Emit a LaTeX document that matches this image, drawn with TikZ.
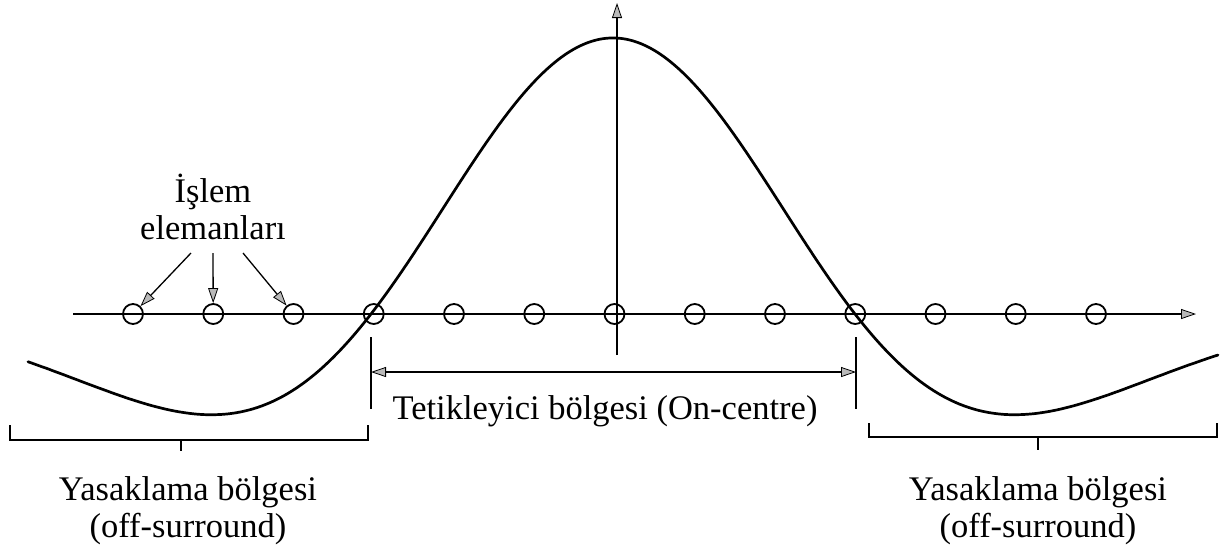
\documentclass[tikz,border=0pt]{standalone}
\usepackage{fontspec}
\setmainfont{Liberation Serif}
\usetikzlibrary{arrows.meta}
\begin{document}
\begin{tikzpicture}[x=1pt,y=-1pt,
  pe/.style={circle,draw,line width=1.8pt,minimum size=20pt,inner sep=0pt},
  tipend/.style={-{Triangle[length=15pt,width=10pt,fill=gray!55,line width=0.8pt]}},
  bothtip/.style={{Triangle[length=15pt,width=10pt,fill=gray!55,line width=0.8pt]}-{Triangle[length=15pt,width=10pt,fill=gray!55,line width=0.8pt]}},
  axis/.style={line width=1.4pt},
  thin/.style={line width=1.3pt},
  curve/.style={line width=2.7pt,line cap=round},
  lbl/.style={font=\fontsize{34.5}{37}\selectfont,align=center,inner sep=0pt}]
\useasboundingbox (0,0) rectangle (1229,550);

% axes
\coordinate (hx0) at (73,314);
\coordinate (hx1) at (1196,314);
\coordinate (vy0) at (617,355);
\coordinate (vy1) at (617,3);
\draw[axis,tipend] (hx0) -- (hx1);
\draw[axis,tipend] (vy0) -- (vy1);

% processing elements
\foreach \i in {0,...,12} {
  \node[pe] (c\i) at ({133+80.25*\i},314) {};
}

% curve
\draw[curve] plot[domain=28:1218,samples=240,smooth]
  (\x,{314-276*(1-((\x-613)/242)^2)*exp(-0.57*((\x-613)/242)^2)});

% label for elements
\node[lbl] (pel) at (213,207) {İşlem\\elemanları};
\coordinate (a1) at (191,253);
\coordinate (a2) at (213,253);
\coordinate (a3) at (243,253);
\draw[thin,tipend] (a1) -- (c0);
\draw[thin,tipend] (a2) -- (c1);
\draw[thin,tipend] (a3) -- (c2);

% on-centre dimension
\coordinate (l0) at (371,337);
\coordinate (l1) at (371,409);
\coordinate (r0) at (856,337);
\coordinate (r1) at (856,409);
\draw[thin] (l0) -- (l1);
\draw[thin] (r0) -- (r1);
\coordinate (d0) at (371,372);
\coordinate (d1) at (856,372);
\draw[thin,bothtip] (d0) -- (d1);
\node[lbl] (on) at (605,411) {Tetikleyici bölgesi (On-centre)};

% left bracket
\coordinate (lb0) at (10,425);
\coordinate (lb1) at (10,440);
\coordinate (lb2) at (368,440);
\coordinate (lb3) at (368,425);
\coordinate (lbm0) at (181,440);
\coordinate (lbm1) at (181,451);
\draw[thin] (lb0) -- (lb1) -- (lb2) -- (lb3);
\draw[thin] (lbm0) -- (lbm1);
\node[lbl] (offl) at (188,511) {Yasaklama bölgesi\\(off-surround)};

% right bracket
\coordinate (rb0) at (869,423);
\coordinate (rb1) at (869,437);
\coordinate (rb2) at (1217,437);
\coordinate (rb3) at (1217,423);
\coordinate (rbm0) at (1038,437);
\coordinate (rbm1) at (1038,450);
\draw[thin] (rb0) -- (rb1) -- (rb2) -- (rb3);
\draw[thin] (rbm0) -- (rbm1);
\node[lbl] (offr) at (1038,511) {Yasaklama bölgesi\\(off-surround)};
\end{tikzpicture}
\end{document}
